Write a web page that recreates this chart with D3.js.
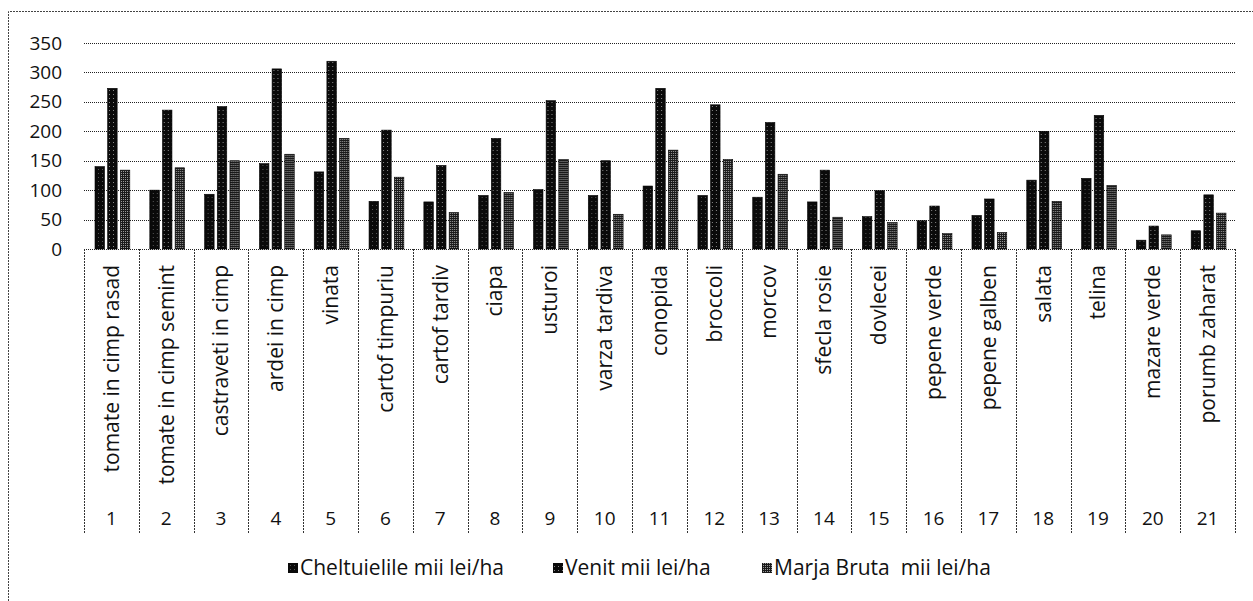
<!DOCTYPE html>
<html>
<head>
<meta charset="utf-8">
<script src="https://cdn.jsdelivr.net/npm/d3@7"></script>
<style>
body { margin:0; background:#fff; }
svg text { font-family: "Open Sans", "Noto Sans", sans-serif; fill:#111; white-space: pre; }
</style>
</head>
<body>
<div id="chart"></div>
<script>
var width = 1253;
var height = 601;

// data
var crops = ["tomate in cimp rasad","tomate in cimp semint","castraveti in cimp","ardei in cimp","vinata",
    "cartof timpuriu","cartof tardiv","ciapa","usturoi","varza tardiva","conopida","broccoli","morcov",
    "sfecla rosie","dovlecei","pepene verde","pepene galben","salata","telina","mazare verde","porumb zaharat"];
var numbers = d3.range(1, 22);
var cheltuieli = [140,100,93,145,131,81,80,91,101,91,107,91,88,80,55,48,57,117,120,15,31];
var venit = [273,236,242,306,319,202,142,188,252,150,273,245,215,134,99,73,85,200,227,39,92];
var marja = [134,138,150,161,188,122,62,96,152,59,168,152,127,54,45,26,28,81,108,24,61];
var seriesNames = ["Cheltuielile mii lei/ha","Venit mii lei/ha","Marja Bruta  mii lei/ha"];
var yTicks = [0,50,100,150,200,250,300,350];

var margin = {top: 43, left: 84, right: 18, bottom: 352};
var svg = d3.select("#chart").append("svg")
    .attr("width", width)
    .attr("height", height);

var defs = svg.append("defs");
// speckled fills like the scanned picture
var p1 = defs.append("pattern").attr("id","pat0").attr("width",4).attr("height",4).attr("patternUnits","userSpaceOnUse");
p1.append("rect").attr("width",4).attr("height",4).attr("fill","#0a0a0a");
p1.append("rect").attr("x",2).attr("y",1).attr("width",1).attr("height",1).attr("fill","#555");
var p2 = defs.append("pattern").attr("id","pat1").attr("width",4).attr("height",4).attr("patternUnits","userSpaceOnUse");
p2.append("rect").attr("width",4).attr("height",4).attr("fill","#0a0a0a");
p2.append("rect").attr("x",1).attr("y",2).attr("width",1).attr("height",1).attr("fill","#888");
var p3 = defs.append("pattern").attr("id","pat2").attr("width",2).attr("height",2).attr("patternUnits","userSpaceOnUse");
p3.append("rect").attr("width",2).attr("height",2).attr("fill","#1a1a1a");
p3.append("rect").attr("x",1).attr("y",1).attr("width",1).attr("height",1).attr("fill","#9a9a9a");
var fills = ["url(#pat0)","url(#pat1)","url(#pat2)"];

// outer frame (only top and left visible)
svg.append("path")
    .attr("d","M8.5,601 V11.5 H1253")
    .attr("fill","none").attr("stroke","#444").attr("stroke-dasharray","2,1");

var x0 = d3.scaleBand().domain(crops).range([margin.left, width - margin.right]);
var x1 = d3.scaleBand().domain([0,1,2]).range([11, x0.bandwidth() - 9]).paddingInner(0.25);
var y = d3.scaleLinear().domain([0,350]).range([249, 43]);

// gridlines
svg.append("g").selectAll("line")
    .data(yTicks).enter().append("line")
    .attr("x1", margin.left).attr("x2", width - margin.right)
    .attr("y1", function(d){ return Math.round(y(d)) + 0.5; })
    .attr("y2", function(d){ return Math.round(y(d)) + 0.5; })
    .attr("stroke", "#222")
    .attr("stroke-dasharray", "1,1");

// y axis labels
var yAxis = d3.axisLeft(y).tickValues(yTicks).tickSize(0).tickPadding(22);
var ya = svg.append("g").attr("transform","translate(" + margin.left + ",0)").call(yAxis);
ya.select(".domain").remove();
ya.selectAll("text").style("font-size","19px").style("font-family","'Open Sans', sans-serif").attr("fill","#111");

// bars
var groups = svg.append("g").selectAll("g")
    .data(crops).enter().append("g")
    .attr("transform", function(d){ return "translate(" + x0(d) + ",0)"; });

groups.selectAll("rect")
    .data(function(d, i){ return [cheltuieli[i], venit[i], marja[i]]; })
    .enter().append("rect")
    .attr("x", function(d, j){ return x1(j); })
    .attr("width", x1.bandwidth())
    .attr("y", function(d){ return y(d); })
    .attr("height", function(d){ return y(0) - y(d); })
    .attr("fill", function(d, j){ return fills[j]; })
    .attr("stroke", "#000")
    .attr("stroke-width", 0.6);

// category table lines
var bounds = crops.map(function(d){ return x0(d); }).concat([width - margin.right]);
svg.append("g").selectAll("line")
    .data(bounds).enter().append("line")
    .attr("x1", function(d){ return Math.round(d) + 0.5; })
    .attr("x2", function(d){ return Math.round(d) + 0.5; })
    .attr("y1", 249).attr("y2", 533)
    .attr("stroke", "#333")
    .attr("stroke-dasharray", "2,1");

// category labels, rotated
groups.append("text")
    .attr("transform", "translate(" + (x0.bandwidth()/2) + ",265) rotate(-90)")
    .attr("text-anchor", "end")
    .attr("dy", "0.35em")
    .style("font-size", "21px")
    .text(function(d){ return d; });

// numbers
groups.append("text")
    .attr("x", x0.bandwidth()/2)
    .attr("y", 518)
    .attr("text-anchor", "middle")
    .attr("dy", "0.35em")
    .style("font-size", "19px")
    .text(function(d, i){ return numbers[i]; });

// legend
var legendX = [288, 553, 762];
var legend = svg.append("g").selectAll("g")
    .data(seriesNames).enter().append("g")
    .attr("transform", function(d, i){ return "translate(" + legendX[i] + ",568)"; });
legend.append("rect")
    .attr("x", 0).attr("y", -5)
    .attr("width", 10).attr("height", 10)
    .attr("fill", function(d, i){ return fills[i]; });
legend.append("text")
    .attr("x", 12)
    .attr("dy", "0.35em")
    .style("font-size", "21px")
    .text(function(d){ return d; });
</script>
</body>
</html>
